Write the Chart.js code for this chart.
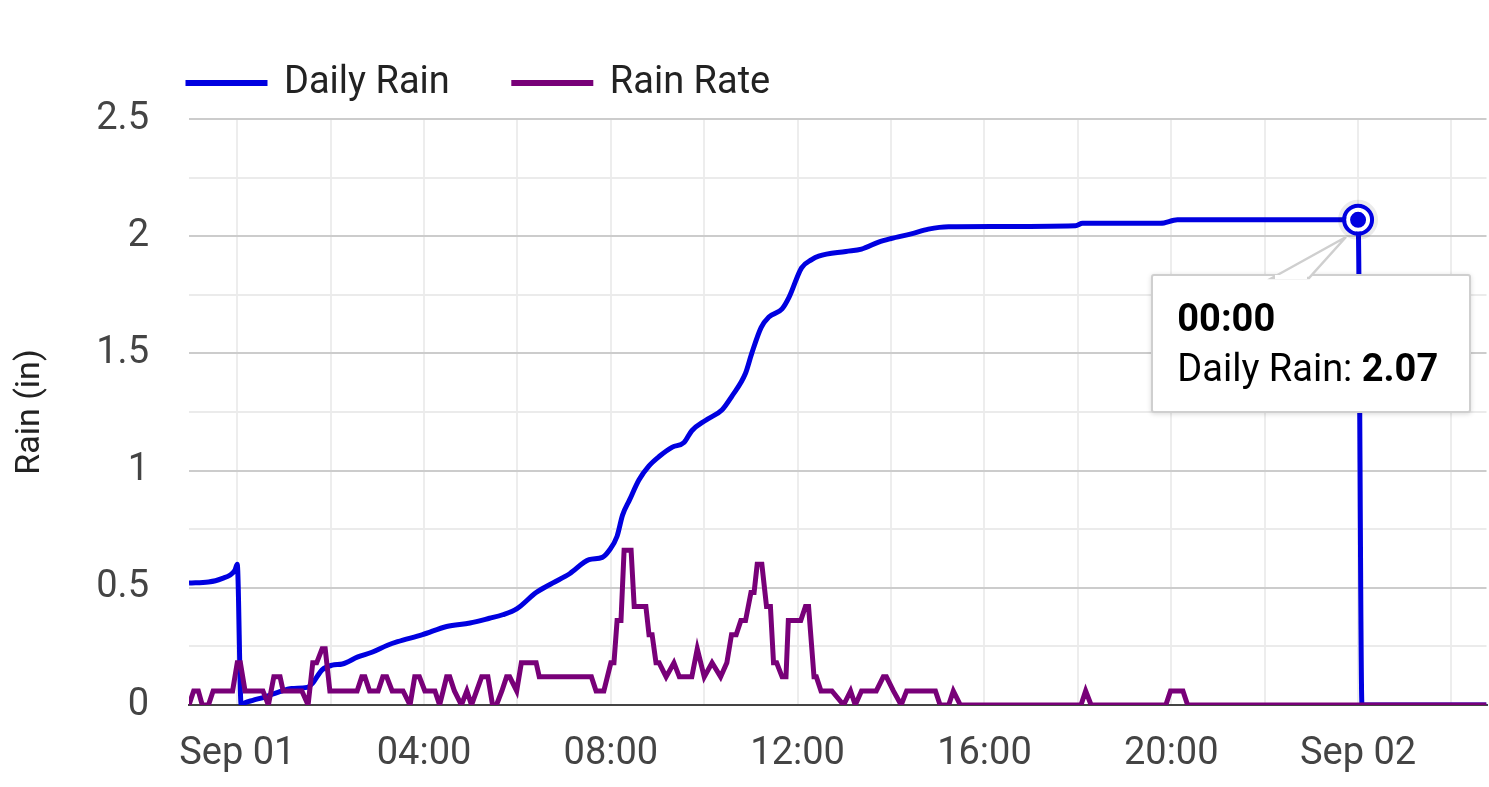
<!DOCTYPE html>
<html>
<head>
<meta charset="utf-8">
<title>Rain</title>
<script src="https://cdn.jsdelivr.net/npm/chart.js@4.4.1/dist/chart.umd.min.js"></script>
<style>
  body { margin: 0; background: #fff; }
  #wrap { position: relative; width: 1489px; height: 787px; }
  #tip {
    position: absolute; display: none; width: 320px; height: 139px; box-sizing: border-box;
    background: #fff; border: 2px solid #cfcfcf; border-radius: 3px;
    box-shadow: 0 1px 5px rgba(0,0,0,0.15);
    font-family: Roboto, sans-serif; color: #000; padding: 17px 0 0 24px;
  }
  #tip .t { font-size: 38px; font-weight: bold; line-height: 50px; }
  #tip .b { font-size: 38px; line-height: 50px; }
  #tip svg { position: absolute; left: -2px; top: -47px; overflow: visible; }
</style>
</head>
<body>
<div id="wrap">
  <canvas id="rainChart" width="1489" height="787"></canvas>
  <div id="tip">
    <svg width="320" height="49"><polygon points="121,49 195,8 158,49" fill="#fff" stroke="#cfcfcf" stroke-width="2.5"/><rect x="124" y="46" width="32" height="4" fill="#fff"/></svg>
    <div class="t"></div>
    <div class="b"></div>
  </div>
</div>
<script>
// times are minutes from Sep 01 00:00
var dailyTimes = [-62, -37, -28, -19, -9, -3, 0, 5, 10, 20, 36, 53, 70, 90, 96, 109, 122, 135, 155, 173,
  193, 206, 238, 269, 299, 324, 341, 359, 384, 405, 427, 452, 469, 478, 488, 495, 504, 516, 529, 542,
  559, 574, 584, 602, 623, 635, 653, 661, 673, 683, 700, 709, 725, 738, 747, 782, 802, 824, 840, 866,
  888, 914, 1077, 1086, 1186, 1208, 1440, 1445, 1605];
var dailyRain = [0.52, 0.525, 0.53, 0.54, 0.555, 0.575, 0.60, 0, 0.01, 0.02, 0.035, 0.055, 0.07, 0.075, 0.09, 0.15, 0.17, 0.175, 0.205, 0.225,
  0.255, 0.27, 0.30, 0.335, 0.35, 0.37, 0.385, 0.41, 0.48, 0.52, 0.56, 0.62, 0.63, 0.66, 0.72, 0.81, 0.875, 0.96, 1.02, 1.06,
  1.10, 1.12, 1.17, 1.215, 1.26, 1.315, 1.415, 1.50, 1.61, 1.655, 1.69, 1.74, 1.865, 1.90, 1.915, 1.935, 1.945, 1.975, 1.99, 2.01,
  2.03, 2.04, 2.045, 2.055, 2.055, 2.07, 2.07, 0, 0];

var rateTimes = [-62, -56, -50, -45, -37, -31, -6, 0, 4, 10, 33, 40, 47, 55, 59, 83, 91, 97, 102, 109, 113, 119,
  154, 160, 164, 170, 181, 187, 192, 199, 213, 222, 228, 234, 241, 254, 260, 269, 273, 279, 288, 295, 301,
  314, 322, 328, 333, 340, 346, 350, 359, 365, 384, 388, 455, 461, 471, 480, 484, 488, 493, 497, 506, 510,
  525, 529, 533, 538, 542, 551, 561, 568, 584, 591, 600, 610, 621, 629, 635, 641, 647, 653, 660, 664, 668,
  674, 680, 685, 689, 693, 700, 705, 708, 724, 730, 734, 741, 744, 750, 764, 779, 788, 794, 802, 821, 830,
  834, 843, 853, 860, 897, 903, 914, 920, 929, 1084, 1090, 1097, 1193, 1199, 1215, 1221, 1605];
var rainRate = [0, 0.06, 0.06, 0, 0, 0.06, 0.06, 0.18, 0.18, 0.06, 0.06, 0, 0.12, 0.12, 0.06, 0.06, 0, 0.18, 0.18, 0.24, 0.24, 0.06,
  0.06, 0.12, 0.12, 0.06, 0.06, 0.12, 0.12, 0.06, 0.06, 0, 0.12, 0.12, 0.06, 0.06, 0, 0.12, 0.12, 0.06, 0, 0.06, 0,
  0.12, 0.12, 0, 0, 0.06, 0.12, 0.12, 0.06, 0.18, 0.18, 0.12, 0.12, 0.06, 0.06, 0.18, 0.18, 0.36, 0.36, 0.66, 0.66, 0.42,
  0.42, 0.30, 0.30, 0.18, 0.18, 0.12, 0.18, 0.12, 0.12, 0.24, 0.12, 0.18, 0.12, 0.18, 0.30, 0.30, 0.36, 0.36, 0.48, 0.48, 0.60,
  0.60, 0.42, 0.42, 0.18, 0.18, 0.12, 0.12, 0.36, 0.36, 0.42, 0.42, 0.12, 0.12, 0.06, 0.06, 0, 0.06, 0, 0.06, 0.06, 0.12,
  0.12, 0.06, 0, 0.06, 0.06, 0, 0, 0.06, 0, 0, 0.06, 0, 0, 0.06, 0.06, 0, 0];

var xMin = -62, xMax = 1605;
// vertical grid every 2 h, labelled every 4 h
var xGrid = [0, 120, 240, 360, 480, 600, 720, 840, 960, 1080, 1200, 1320, 1440, 1560];
var yTicks = ['0', '0.5', '1', '1.5', '2', '2.5'];
var activeTime = 1440; // tooltip shown at Sep 02 00:00

function hhmm(m) {
  var t = ((m % 1440) + 1440) % 1440;
  var h = Math.floor(t / 60), mm = Math.round(t % 60);
  return (h < 10 ? '0' : '') + h + ':' + (mm < 10 ? '0' : '') + mm;
}

function externalTooltip(context) {
  var tooltip = context.tooltip;
  var el = document.getElementById('tip');
  if (tooltip.opacity === 0 || !tooltip.dataPoints || !tooltip.dataPoints.length) { el.style.display = 'none'; return; }
  var dp = tooltip.dataPoints[0];
  el.querySelector('.t').textContent = tooltip.title[0];
  el.querySelector('.b').innerHTML = dp.dataset.label + ': <b>' + dp.parsed.y.toFixed(2) + '</b>';
  el.style.left = (tooltip.caretX - 209) + 'px';
  el.style.top = (tooltip.caretY + 54) + 'px';
  el.style.display = 'block';
}

// legend sits aligned with the plot left edge, with extra gap beneath it
var legendPlace = {
  id: 'legendPlace',
  beforeLayout: function (chart) {
    var lg = chart.legend;
    if (lg && !lg._patched) {
      var fit = lg.fit;
      lg.fit = function () { fit.call(this); this.height += 7; };
      lg._patched = true;
    }
  },
  afterLayout: function (chart) {
    var lg = chart.legend;
    var dx = chart.chartArea.left - 1 - lg.options.labels.padding - lg.left;
    lg.left += dx; lg.right += dx;
  },
  afterDatasetsDraw: function (chart) {
    var act = chart.getActiveElements();
    var ctx = chart.ctx;
    act.forEach(function (a) {
      var el = chart.getDatasetMeta(a.datasetIndex).data[a.index];
      ctx.save();
      ctx.beginPath();
      ctx.arc(el.x, el.y, 18, 0, Math.PI * 2);
      ctx.lineWidth = 4;
      ctx.strokeStyle = 'rgba(0,0,0,0.08)';
      ctx.stroke();
      ctx.beginPath();
      ctx.arc(el.x, el.y, 14, 0, Math.PI * 2);
      ctx.lineWidth = 4;
      ctx.strokeStyle = '#0000e0';
      ctx.stroke();
      ctx.restore();
    });
  }
};

Chart.defaults.font.family = 'Roboto';

var chart = new Chart(document.getElementById('rainChart'), {
  type: 'line',
  data: {
    datasets: [{
      label: 'Daily Rain',
      data: dailyTimes.map(function (t, i) { return { x: t, y: dailyRain[i] }; }),
      borderColor: '#0000e0',
      backgroundColor: '#0000e0',
      borderWidth: 5,
      pointRadius: 0,
      pointHoverRadius: 10,
      pointHoverBackgroundColor: '#0000e0',
      pointHoverBorderColor: '#ffffff',
      pointHoverBorderWidth: 4,
      cubicInterpolationMode: 'monotone',
      order: 1
    }, {
      label: 'Rain Rate',
      data: rateTimes.map(function (t, i) { return { x: t, y: rainRate[i] }; }),
      borderColor: '#780078',
      backgroundColor: '#780078',
      borderWidth: 5,
      pointRadius: 0,
      pointHoverRadius: 0,
      tension: 0,
      order: 0
    }]
  },
  options: {
    responsive: false,
    devicePixelRatio: 1,
    animation: false,
    events: [],
    layout: { padding: 0 },
    plugins: {
      legend: {
        position: 'top',
        align: 'start',
        labels: {
          boxWidth: 77,
          boxHeight: 1,
          padding: 64,
          color: '#222',
          font: { size: 38 },
          sort: function (a, b) { return a.datasetIndex - b.datasetIndex; }
        }
      },
      tooltip: {
        enabled: false,
        external: externalTooltip,
        callbacks: {
          title: function (items) { return hhmm(items[0].parsed.x); }
        }
      }
    },
    scales: {
      x: {
        type: 'linear',
        min: xMin,
        max: xMax,
        afterBuildTicks: function (s) { s.ticks = xGrid.map(function (v) { return { value: v }; }); },
        afterFit: function (s) { s.height = 82; },
        grid: { color: '#ededed', lineWidth: 2, drawTicks: false },
        border: { color: '#444', width: 2 },
        ticks: {
          autoSkip: false,
          maxRotation: 0,
          padding: 27,
          color: '#444',
          font: { size: 38 },
          callback: function (v) {
            if (v % 240 !== 0) return '';
            if (v % 1440 === 0) return 'Sep ' + (v / 1440 === 0 ? '01' : '02');
            return hhmm(v);
          }
        }
      },
      y: {
        min: 0,
        max: 2.5,
        afterFit: function (s) { s.width = 189; },
        grid: {
          lineWidth: 2,
          drawTicks: false,
          color: function (c) {
            if (c.tick.value === 0) return '#444';
            return c.tick.value % 0.5 === 0 ? '#cccccc' : '#ebebeb';
          }
        },
        border: { display: false },
        title: {
          display: true,
          text: 'Rain (in)',
          color: '#222',
          font: { size: 34 },
          padding: { top: 10, bottom: 0 }
        },
        ticks: {
          stepSize: 0.25,
          maxTicksLimit: 20,
          padding: 40,
          color: '#444',
          font: { size: 38 },
          callback: function (v) {
            var k = Math.round(v / 0.5);
            return Math.abs(v - k * 0.5) < 1e-9 ? yTicks[k] : '';
          }
        }
      }
    }
  },
  plugins: [legendPlace]
});

var idx = dailyTimes.indexOf(activeTime);
var el0 = chart.getDatasetMeta(0).data[idx];
chart.setActiveElements([{ datasetIndex: 0, index: idx }]);
chart.tooltip.setActiveElements([{ datasetIndex: 0, index: idx }], { x: el0.x, y: el0.y });
chart.update();
</script>
</body>
</html>
